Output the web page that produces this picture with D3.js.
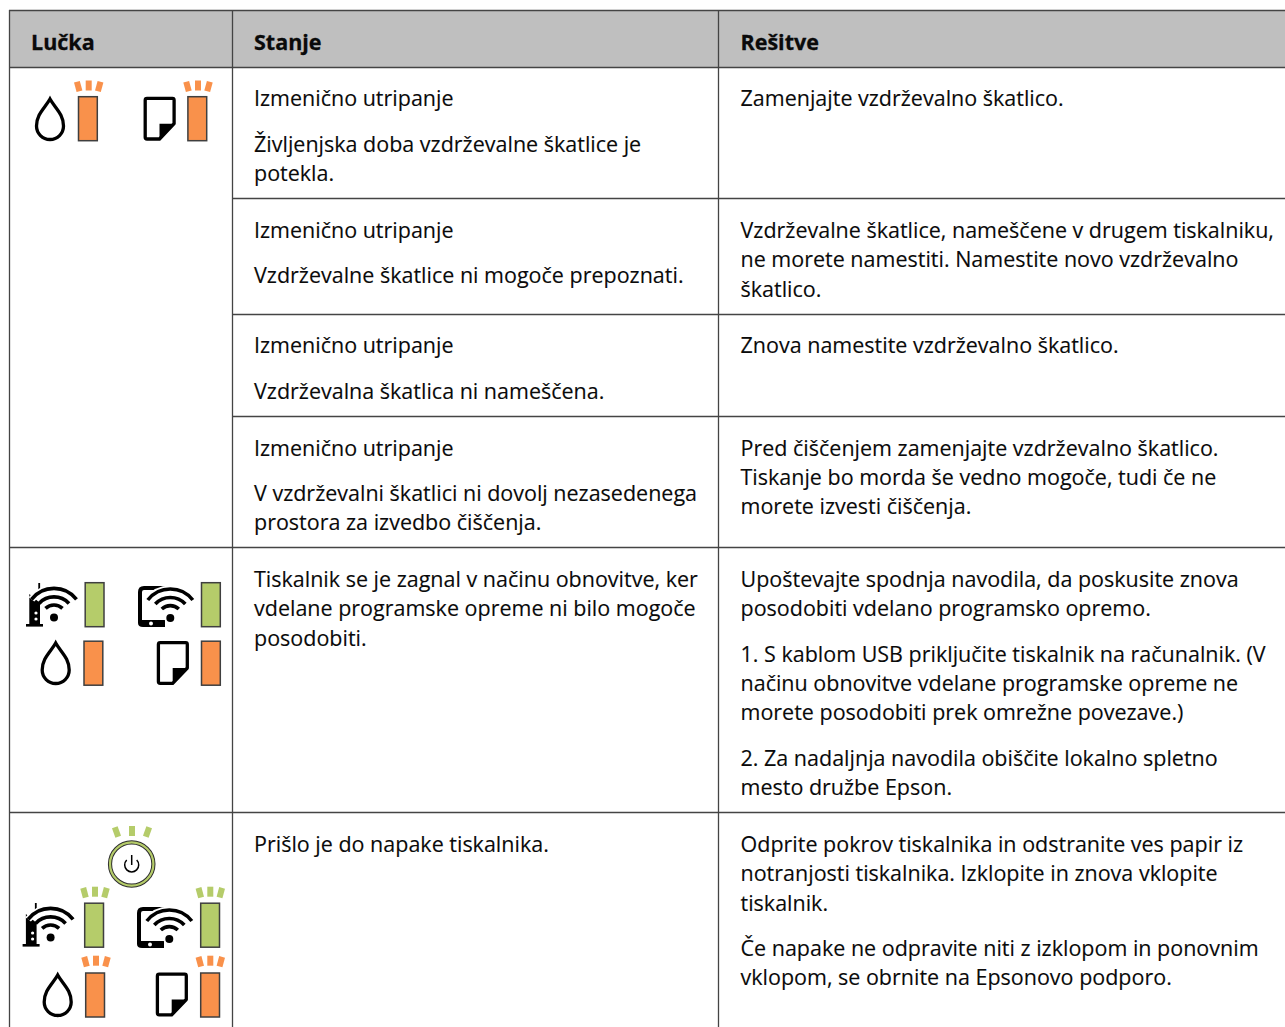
<!DOCTYPE html>
<html><head><meta charset="utf-8">
<script src="https://cdnjs.cloudflare.com/ajax/libs/d3/7.8.5/d3.min.js"></script>
<style>html,body{margin:0;padding:0;background:#fff;overflow:hidden}
text{font-family:"Open Sans",sans-serif;fill:#0a0a0a;stroke:#0a0a0a;stroke-width:.12}</style></head><body><svg id="c" width="1285" height="1027"></svg>
<script>
const headers=["Lučka","Stanje","Rešitve"];
const stateLines=[
["Izmenično utripanje",98],["Življenjska doba vzdrževalne škatlice je",144],["potekla.",173],
["Izmenično utripanje",230],["Vzdrževalne škatlice ni mogoče prepoznati.",275],
["Izmenično utripanje",345],["Vzdrževalna škatlica ni nameščena.",391],
["Izmenično utripanje",448],["V vzdrževalni škatlici ni dovolj nezasedenega",493],["prostora za izvedbo čiščenja.",522],
["Tiskalnik se je zagnal v načinu obnovitve, ker",579],["vdelane programske opreme ni bilo mogoče",608],["posodobiti.",638],
["Prišlo je do napake tiskalnika.",844]];
const solutionLines=[
["Zamenjajte vzdrževalno škatlico.",98],
["Vzdrževalne škatlice, nameščene v drugem tiskalniku,",230],["ne morete namestiti. Namestite novo vzdrževalno",259],["škatlico.",289],
["Znova namestite vzdrževalno škatlico.",345],
["Pred čiščenjem zamenjajte vzdrževalno škatlico.",448],["Tiskanje bo morda še vedno mogoče, tudi če ne",477],["morete izvesti čiščenja.",506],
["Upoštevajte spodnja navodila, da poskusite znova",579],["posodobiti vdelano programsko opremo.",608],
["1. S kablom USB priključite tiskalnik na računalnik. (V",654],["načinu obnovitve vdelane programske opreme ne",683],["morete posodobiti prek omrežne povezave.)",712],
["2. Za nadaljnja navodila obiščite lokalno spletno",758],["mesto družbe Epson.",787],
["Odprite pokrov tiskalnika in odstranite ves papir iz",844],["notranjosti tiskalnika. Izklopite in znova vklopite",873],["tiskalnik.",903],
["Če napake ne odpravite niti z izklopom in ponovnim",948],["vklopom, se obrnite na Epsonovo podporo.",977]];
const columnEdges=[9,232,718];
const partialRows=[198,314,416];
const fullRows=[10,67,547,812];
const svg=d3.select("#c");
const LINE="#444",ORANGE="#f9914b",GREEN="#b5cc6a";
svg.append("rect").attr("x",9).attr("y",10).attr("width",1276).attr("height",57).attr("fill","#bfbfbf");
svg.selectAll(".h").data(fullRows).join("line").attr("x1",9).attr("x2",1285).attr("y1",d=>d+.5).attr("y2",d=>d+.5).attr("stroke",LINE).attr("stroke-width",1.3);
svg.selectAll(".p").data(partialRows).join("line").attr("x1",232).attr("x2",1285).attr("y1",d=>d+.5).attr("y2",d=>d+.5).attr("stroke",LINE).attr("stroke-width",1.3);
svg.selectAll(".v").data(columnEdges).join("line").attr("x1",d=>d+.5).attr("x2",d=>d+.5).attr("y1",10).attr("y2",1027).attr("stroke",LINE).attr("stroke-width",1.3);
svg.selectAll(".hd").data(headers).join("text").attr("x",(d,i)=>[31,254,740.5][i]).attr("y",49.5).attr("font-size",21.5).attr("font-weight",700).style("stroke-width",.3).text(d=>d);
[[stateLines,254],[solutionLines,740.5]].forEach(([arr,x])=>{
 svg.append("g").selectAll("text").data(arr).join("text").attr("x",x).attr("y",d=>d[1]+7.5).attr("font-size",21.5).text(d=>d[0]);
});
const dropPath="M0,-20 C5,-11 13.5,-5 13.5,7 A13.5,13.5 0 0 1 -13.5,7 C-13.5,-5 -5,-11 0,-20Z";
function drop(cx,cy){svg.append("path").attr("transform",`translate(${cx},${cy})`).attr("d",dropPath).attr("fill","#fff").attr("stroke","#000").attr("stroke-width",3.3).attr("stroke-linejoin","miter");}
function paper(x,y){const g=svg.append("g").attr("transform",`translate(${x},${y})`);
 g.append("path").attr("d","M3.5,1.7 H29 Q30.6,1.7 30.6,3.5 V27 L16,42.3 H3.5 Q1.7,42.3 1.7,40.5 V3.5 Q1.7,1.7 3.5,1.7Z").attr("fill","#fff").attr("stroke","#000").attr("stroke-width",3.3).attr("stroke-linejoin","round");
 g.append("path").attr("d","M16,27 H30.6 L16,42.3Z").attr("fill","#000");}
function bar(x,y,c){svg.append("rect").attr("x",x+.7).attr("y",y+.7).attr("width",18.8).attr("height",44).attr("fill",c).attr("stroke","#3f3f3f").attr("stroke-width",1.5);}
function rays(cx,y,c,off=10.5,rot=15){[-1,0,1].forEach(k=>svg.append("rect").attr("x",-3).attr("y",-5).attr("width",6).attr("height",10).attr("fill",c)
 .attr("transform",`translate(${cx+k*off},${y+(k?1:0)}) rotate(${k*rot})`));}
function wifi(cx,dy){const g=svg.append("g").attr("transform",`translate(${cx},${dy})`).attr("fill","none").attr("stroke-linecap","butt");
 const arcs=[[28.5,22.5,-18],[20.5,15,-14],[12.5,8.5,-9]].map(([r,x,y])=>`M${-x},${y} A${r},${r} 0 0 1 ${x},${y}`);
 g.append("path").attr("d",arcs[0]).attr("stroke","#fff").attr("stroke-width",7);
 g.selectAll(".a").data(arcs).join("path").attr("d",d=>d).attr("stroke","#000").attr("stroke-width",3.6);
 g.append("circle").attr("r",6).attr("fill","#fff");
 g.append("circle").attr("r",4).attr("fill","#000");}
function router(x,y){const g=svg.append("g").attr("transform",`translate(${x},${y})`);
 g.append("rect").attr("x",12.3).attr("y",0).attr("width",1.8).attr("height",9);
 g.append("path").attr("d","M3.3,11 L3.3,41 H14 V20 Z").attr("fill","#000");
 g.append("rect").attr("x",0).attr("y",41).attr("width",17).attr("height",2.6);
 [30,36].forEach(c=>g.append("circle").attr("cx",10).attr("cy",c).attr("r",1.6).attr("fill","#fff"));
 wifi(x+28,y+34.4);}
function phone(x,y){const g=svg.append("g").attr("transform",`translate(${x},${y})`);
 g.append("path").attr("d","M27,2 H6 Q2,2 2,6 V36").attr("fill","none").attr("stroke","#000").attr("stroke-width",4);
 g.append("path").attr("d","M0,34 H27 V41 H5 Q0,41 0,37Z").attr("fill","#000");
 g.append("circle").attr("cx",13).attr("cy",37.5).attr("r",2).attr("fill","#fff");
 wifi(x+32.3,y+32);}
// row 1
drop(50,119);bar(77.8,96,ORANGE);rays(88.7,85.5,ORANGE);paper(143.5,96.7);bar(187.2,96,ORANGE);rays(198,85.5,ORANGE);
// row 5
router(26,583);bar(84.5,582,GREEN);phone(138,586);bar(200.8,582,GREEN);drop(55.7,663);bar(83.3,640.5,ORANGE);paper(156.7,641);bar(200.8,640.5,ORANGE);
// row 6
svg.append("circle").attr("cx",131.7).attr("cy",864).attr("r",21.7).attr("fill","#fff").attr("stroke","#2e2e2e").attr("stroke-width",4.2);
svg.append("circle").attr("cx",131.7).attr("cy",864).attr("r",21.7).attr("fill","none").attr("stroke",GREEN).attr("stroke-width",2.2);
svg.append("path").attr("d","M126.7,860 A7,7 0 1 0 136.7,860").attr("fill","none").attr("stroke","#000").attr("stroke-width",1.5);
svg.append("line").attr("x1",131.7).attr("x2",131.7).attr("y1",855).attr("y2",865).attr("stroke","#000").attr("stroke-width",1.5);
rays(132,831,GREEN,15.5,20);
router(22.6,903);bar(84,902.5,GREEN);rays(95,891.7,GREEN);phone(137,907);bar(200,902.5,GREEN);rays(210.3,891.7,GREEN);
drop(57.7,995);bar(85,972.3,ORANGE);rays(96,960.7,ORANGE);paper(155.7,972.5);bar(200,972.3,ORANGE);rays(210.3,960.7,ORANGE);
</script></body></html>
